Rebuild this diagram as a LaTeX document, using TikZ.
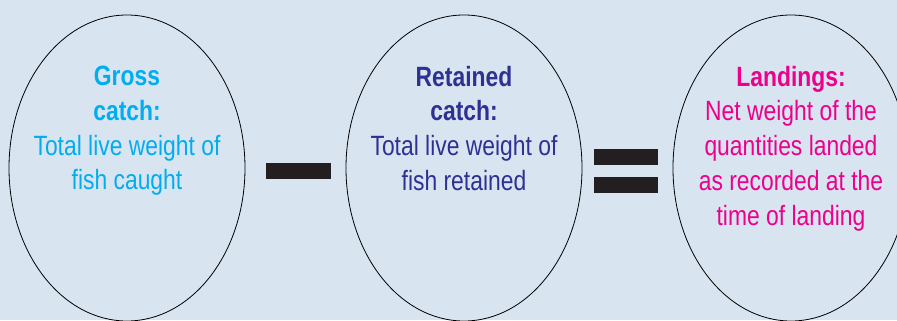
\documentclass[tikz,border=0pt]{standalone}
\usepackage{fontspec}
\setmainfont{Liberation Sans}[FakeStretch=0.82]
\usepackage{xcolor}
\usetikzlibrary{shapes.geometric,positioning}
\definecolor{bgblue}{HTML}{D9E4F1}
\definecolor{grosscol}{HTML}{00AEEF}
\definecolor{retcol}{HTML}{2E3192}
\definecolor{landcol}{HTML}{EC008C}
\definecolor{barcol}{HTML}{231F20}
\begin{document}
\begin{tikzpicture}[x=1bp,y=1bp,
  oval/.style={ellipse,draw=black,line width=0.8bp,minimum width=236bp,minimum height=306bp,inner sep=0pt},
  txt/.style={anchor=north,align=center,inner sep=0pt,font=\fontsize{28}{35}\selectfont},
  bar/.style={fill=barcol,minimum width=65bp,minimum height=16bp,inner sep=0pt}]
\fill[bgblue](0,0)rectangle(897,320);
\useasboundingbox(0,0)rectangle(897,320);
\node[oval](gross)at(127,152){};
\node[oval](retained)at(464,152){};
\node[oval](landings)at(791,152){};
\node[txt,text=grosscol,below=51bp of gross.north](grosstxt){\textbf{Gross}\\\textbf{catch:}\\Total live weight of\\fish caught};
\node[txt,text=retcol,below=51bp of retained.north](rettxt){\textbf{Retained}\\\textbf{catch:}\\Total live weight of\\fish retained};
\node[txt,text=landcol,below=51bp of landings.north](landtxt){\textbf{Landings:}\\Net weight of the\\quantities landed\\as recorded at the\\time of landing};
\node[bar](minus)at(298.5,149){};
\node[bar,minimum width=64bp](eqtop)at(626,163){};
\node[bar,minimum width=64bp](eqbot)at(626,135){};
\end{tikzpicture}
\end{document}
